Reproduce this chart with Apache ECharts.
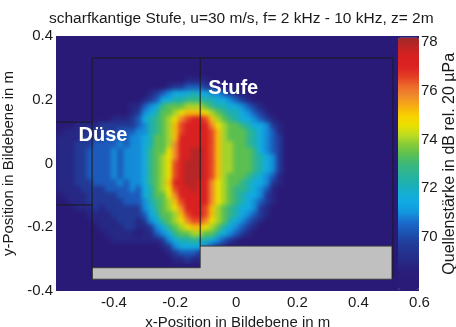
<!DOCTYPE html>
<html>
<head>
<meta charset="utf-8">
<script src="https://cdn.jsdelivr.net/npm/echarts@6/dist/echarts.min.js"></script>
<style>
  html, body { margin: 0; padding: 0; background: #fff; }
  #wrap { position: relative; width: 456px; height: 327px; }
  #heatClip { position: absolute; left: 56px; top: 36px; width: 363px; height: 255px; overflow: hidden; }
  #heat { position: absolute; left: -56px; top: -36px; width: 456px; height: 327px; background: #2a1a78; filter: blur(2px); }
  #chart { position: absolute; left: 0; top: 0; width: 456px; height: 327px; }
</style>
</head>
<body>
<div id="wrap">
  <div id="heatClip"><div id="heat"></div></div>
  <div id="chart"></div>
</div>
<script>
var fontFamily = '"Liberation Sans", Arial, sans-serif';

// =====================================================================================================================
// DONNEES

var xTicks = [-0.4, -0.2, 0, 0.2, 0.4, 0.6];
var yTicks = [-0.4, -0.2, 0, 0.2, 0.4];
var barTicks = [70, 72, 74, 76, 78];
var barRange = [67.8, 78.2];

// niveaux en dB, code 0..f
var levels = [67.9, 68.9, 69.6, 70.3, 70.9, 71.5, 72.2, 72.8, 73.4, 74.0, 74.6, 75.2, 75.8, 76.5, 77.2, 77.9];

// centres des cellules en m
var xCells = [-0.58, -0.56, -0.54, -0.52, -0.50, -0.48, -0.46, -0.44, -0.42, -0.40, -0.38, -0.36, -0.34,
  -0.32, -0.30, -0.28, -0.26, -0.24, -0.22, -0.20, -0.18, -0.16, -0.14, -0.12, -0.10, -0.08, -0.06,
  -0.04, -0.02, 0, 0.02, 0.04, 0.06, 0.08, 0.10, 0.12, 0.14];
var yCells = [0.26, 0.24, 0.22, 0.20, 0.18, 0.16, 0.14, 0.12, 0.10, 0.08, 0.06, 0.04, 0.02, 0,
  -0.02, -0.04, -0.06, -0.08, -0.10, -0.12, -0.14, -0.16, -0.18, -0.20, -0.22, -0.24, -0.26, -0.28, -0.30];

// une ligne par yCells, un caractere par xCells
var cellRows = [
  '0000000000000' + '000000001111000000000000',
  '0000000000000' + '000001223332210000000000',
  '0000000000000' + '001234555655443210000000',
  '0000000000000' + '012355667776655432100000',
  '0000000000001' + '134578889998766554321000',
  '0000000000001' + '2456889abbba987665432100',
  '0000000001112' + '356789acdeedb98765543210',
  '0001111222222' + '346789bdeeeeca9887655421',
  '0111122222333' + '446789bdeeeedb9888765431',
  '1111222233334' + '456889beeeeedb9888765432',
  '1112223333434' + '456889ceeeeedb9988765432',
  '1112233334344' + '45788aceeffedb9988875432',
  '1112233334344' + '45789aceeffedb9988876542',
  '1112233334344' + '45789adefffedb9988876542',
  '1112233334344' + '45789adefffedb9988876542',
  '1112233334344' + '45789adefffedb9888765431',
  '1112223333434' + '45789beeffeeca9887655421',
  '1111222233334' + '35689adeefeeca9877654310',
  '0111122222333' + '35688aceeeeeca9876554210',
  '0011122222233' + '346789bdeeeeca9876543210',
  '0001112122222' + '245789aceeedb98765542100',
  '0000011112222' + '2356889bdeedb98765432100',
  '0000001111222' + '1245789acddca98654321000',
  '0000000111122' + '11245789abba986543210000',
  '0000000011111' + '011345788998865432100000',
  '0000000001111' + '111124566766543210000000',
  '0000000000000' + '000012455554321000000000',
  '0000000000000' + '000001233321000000000000',
  '0000000000000' + '000000112110000000000000'
];

// contour de la stufe (gris) et traits noirs
var stepOutline = [[-0.472, -0.363], [-0.472, -0.327], [-0.118, -0.327], [-0.118, -0.259],
  [0.51, -0.259], [0.51, -0.363]];
var frameLines = [
  [[-0.59, 0.13], [-0.472, 0.13]],
  [[-0.59, -0.13], [-0.472, -0.13]],
  [[-0.472, -0.363], [-0.472, 0.331], [0.513, 0.331], [0.513, -0.36]],
  [[-0.118, 0.331], [-0.118, -0.259]]
];
var textMarks = [
  {name: 'Düse', value: [-0.436, 0.089]},
  {name: 'Stufe', value: [-0.01, 0.235]}
];

// palette type "jet"
var jetColors = ['#2a1a76', '#2a1b78', '#2a1e7c', '#262a86', '#233490', '#20409c', '#1d56b6', '#1a6ccc',
  '#1296dc', '#10aae4', '#16aed0', '#1eb0b0', '#2cb496', '#3cb878', '#5cc050', '#88cc38', '#c0dc20',
  '#ece000', '#f8d000', '#f6aa14', '#f08a2c', '#ec6a2a', '#e43c24', '#dc2222', '#d82020', '#c02424', '#9a2a2a'];

var heatData = [];
cellRows.forEach(function (row, r) {
  for (var c = 0; c < xCells.length; c++) {
    heatData.push([xCells[c], yCells[r], levels[parseInt(row.charAt(c), 16)]]);
  }
});

function renderCell(params, api) {
  var half = 0.01;
  var p0 = api.coord([api.value(0) - half, api.value(1) + half]);
  var p1 = api.coord([api.value(0) + half, api.value(1) - half]);
  return {
    type: 'rect',
    shape: {x: p0[0], y: p0[1], width: p1[0] - p0[0] + 0.6, height: p1[1] - p0[1] + 0.6},
    style: {fill: api.visual('color')}
  };
}

function renderStep(params, api) {
  return {
    type: 'polygon',
    shape: {points: stepOutline.map(function (p) { return api.coord(p); })},
    style: {fill: '#c0c0c0', stroke: '#3a3a3a', lineWidth: 1}
  };
}

var textColor = '#1a1a1a';
var mainGrid = {left: 56, right: 36.5, top: 36, bottom: 36, outerBoundsMode: 'none', containLabel: false};

// =====================================================================================================================
// CARTE DE SOURCES (calque flouté sous le graphique)

var heat = echarts.init(document.getElementById('heat'), null, {renderer: 'canvas'});
heat.setOption({
  animation: false,
  grid: mainGrid,
  xAxis: {type: 'value', min: -0.59, max: 0.6, show: false},
  yAxis: {type: 'value', min: -0.4, max: 0.4, show: false},
  visualMap: {
    type: 'continuous', show: false, min: barRange[0], max: barRange[1],
    dimension: 2, seriesIndex: 0, inRange: {color: jetColors}
  },
  series: [{
    type: 'custom',
    renderItem: renderCell,
    data: heatData,
    encode: {x: 0, y: 1},
    silent: true
  }]
});

// =====================================================================================================================
// GRAPHIQUE : AXES, GEOMETRIE, BARRE DE COULEUR

var chart = echarts.init(document.getElementById('chart'), null, {renderer: 'canvas'});

var series = [
  {
    // support de la barre de couleur
    type: 'custom',
    renderItem: function () { return null; },
    data: [[0, 0, 70]],
    encode: {x: 0, y: 1},
    silent: true
  },
  {
    type: 'custom',
    renderItem: renderStep,
    data: [[0, 0]],
    encode: {x: 0, y: 1},
    silent: true,
    z: 2
  }
];

frameLines.forEach(function (pts) {
  series.push({
    type: 'line',
    data: pts,
    symbol: 'none',
    silent: true,
    lineStyle: {color: '#1a1a1a', width: 1},
    z: 3
  });
});

series.push({
  type: 'scatter',
  data: textMarks,
  symbolSize: 1,
  itemStyle: {color: 'rgba(0,0,0,0)', opacity: 1},
  silent: true,
  z: 4,
  label: {
    show: true,
    position: 'inside',
    formatter: '{b}',
    color: '#ffffff',
    opacity: 1,
    textBorderWidth: 0,
    fontFamily: fontFamily,
    fontWeight: 'bold',
    fontSize: 20
  }
});

chart.setOption({
  animation: false,
  title: {
    text: 'scharfkantige Stufe, u=30 m/s, f= 2 kHz - 10 kHz, z= 2m',
    left: 49,
    top: 11,
    padding: 0,
    textStyle: {fontFamily: fontFamily, fontSize: 15.5, fontWeight: 'normal', color: textColor}
  },
  grid: [
    mainGrid,
    {left: 398, width: 21, top: 37.5, height: 252.5, outerBoundsMode: 'none', containLabel: false}
  ],
  xAxis: [
    {
      type: 'value', gridIndex: 0, min: -0.59, max: 0.6,
      axisLine: {show: false}, axisTick: {show: false}, splitLine: {show: false},
      axisLabel: {customValues: xTicks, margin: 4, color: textColor, fontFamily: fontFamily, fontSize: 15},
      name: 'x-Position in Bildebene in m', nameLocation: 'middle', nameGap: 20,
      nameTextStyle: {fontFamily: fontFamily, fontSize: 15, color: textColor}
    },
    {type: 'value', gridIndex: 1, show: false, min: 0, max: 1}
  ],
  yAxis: [
    {
      type: 'value', gridIndex: 0, min: -0.4, max: 0.4, interval: 0.2,
      axisLine: {show: false}, axisTick: {show: false}, splitLine: {show: false},
      axisLabel: {margin: 3, color: textColor, fontFamily: fontFamily, fontSize: 15},
      name: 'y-Position in Bildebene in m', nameLocation: 'middle', nameGap: 32,
      nameTextStyle: {fontFamily: fontFamily, fontSize: 15, color: textColor}
    },
    {
      type: 'value', gridIndex: 1, position: 'right', min: barRange[0], max: barRange[1],
      axisLine: {show: false}, axisTick: {show: false}, splitLine: {show: false},
      axisLabel: {customValues: barTicks, margin: 2, color: textColor, fontFamily: fontFamily, fontSize: 15},
      name: 'Quellenstärke in dB rel. 20 µPa', nameLocation: 'middle', nameGap: 21,
      nameTextStyle: {fontFamily: fontFamily, fontSize: 16, color: textColor}
    }
  ],
  visualMap: {
    type: 'continuous',
    min: barRange[0],
    max: barRange[1],
    dimension: 2,
    seriesIndex: 0,
    calculable: false,
    hoverLink: false,
    left: 398,
    top: 37.5,
    padding: 0,
    itemWidth: 21,
    itemHeight: 252.5,
    inRange: {color: jetColors}
  },
  series: series
});
</script>
</body>
</html>
